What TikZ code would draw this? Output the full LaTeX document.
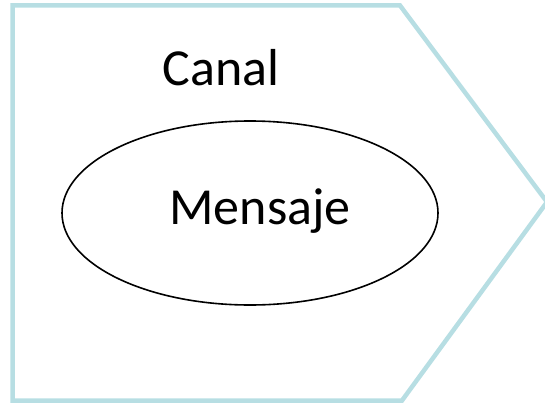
\documentclass[tikz,border=0pt]{standalone}
\usepackage{fontspec}
\setmainfont{Carlito}
\usetikzlibrary{shapes.geometric}
\definecolor{canalblue}{HTML}{B7DEE3}
\begin{document}
\begin{tikzpicture}[x=1pt,y=-1pt]
      \useasboundingbox (0,0) rectangle (545,404);
      \draw[canalblue,line width=4.5pt,line join=miter]
        (12.5,5.5) -- (400,5.5) -- (547,202) -- (402,400.5) -- (12.5,400.5) -- cycle;
      \node (canal) at (221,68) {\fontsize{52}{62}\selectfont Canal};
      \node[draw,ellipse,line width=1.6pt,minimum width=376pt,minimum height=184pt,inner sep=0pt]
        (ellipse) at (250,213) {};
      \node (mensaje) at (260,211) {\fontsize{52}{62}\selectfont Mensaje};
    \end{tikzpicture}
\end{document}
